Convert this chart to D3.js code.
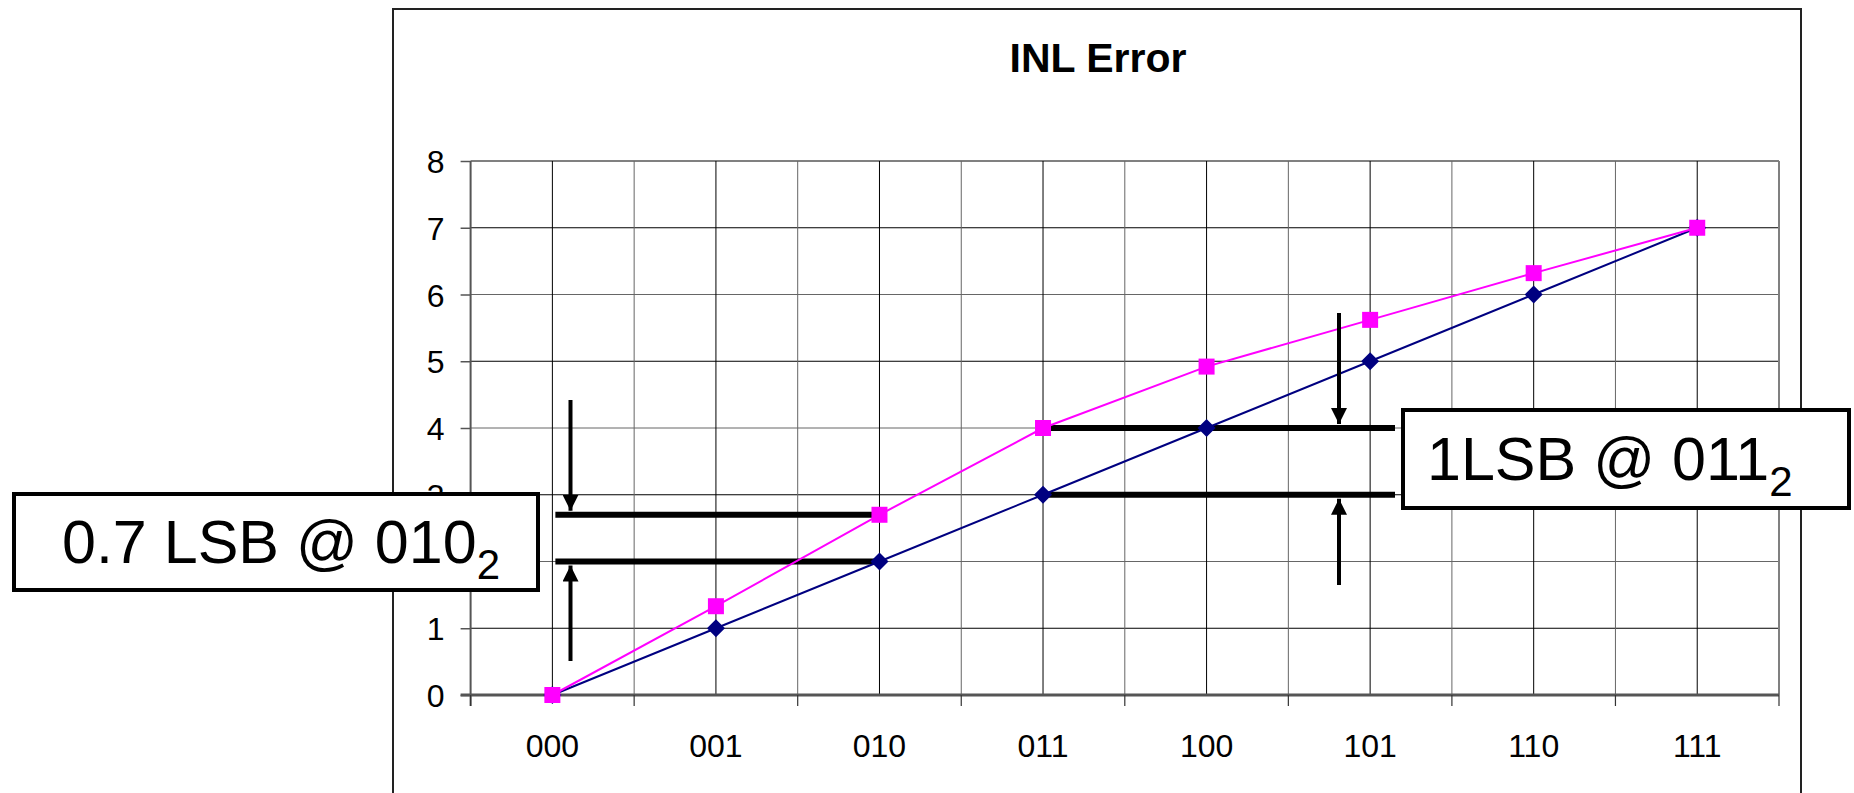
<!DOCTYPE html>
<html>
<head>
<meta charset="utf-8">
<script src="https://cdn.jsdelivr.net/npm/d3@7"></script>
<style>
  html, body { margin: 0; padding: 0; background: #fff; }
  svg { display: block; font-family: "Liberation Sans", Arial, sans-serif; }
</style>
</head>
<body>
<svg id="chart" width="1854" height="793"></svg>
<script>
// ---- data ----
const categories = ["000", "001", "010", "011", "100", "101", "110", "111"];
const idealValues = [0, 1, 2, 3, 4, 5, 6, 7];
const actualValues = [0, 1.33, 2.7, 4, 4.92, 5.62, 6.32, 7];
const yTicks = [0, 1, 2, 3, 4, 5, 6, 7, 8];
const titleText = "INL Error";
const leftNote = { main: "0.7 LSB @ 010", sub: "2", code: "010", hi: 2.7, lo: 2 };
const rightNote = { main: "1LSB @ 011", sub: "2", code: "011", hi: 4, lo: 3 };

// ---- layout ----
const svg = d3.select("#chart");
const plot = { left: 470.6, right: 1779, top: 161, bottom: 695 };

const x = d3.scaleBand().domain(categories).range([plot.left, plot.right]).padding(0);
const xc = c => x(c) + x.bandwidth() / 2;
const y = d3.scaleLinear().domain([0, 8]).range([plot.bottom, plot.top]);

// outer chart border
svg.append("rect")
  .attr("x", 393).attr("y", 9).attr("width", 1408).attr("height", 820)
  .attr("fill", "#fff").attr("stroke", "#222").attr("stroke-width", 2);

// title
svg.append("text")
  .attr("x", 1098).attr("y", 72)
  .attr("text-anchor", "middle")
  .attr("font-size", 41).attr("font-weight", "bold")
  .text(titleText);

// horizontal gridlines
svg.append("g").selectAll("line").data(yTicks.filter(d => d > 0))
  .join("line")
  .attr("x1", plot.left).attr("x2", plot.right)
  .attr("y1", d => y(d)).attr("y2", d => y(d))
  .attr("stroke", (d, i) => d === 8 ? "#808080" : (d % 2 ? "#000" : "#666"))
  .attr("stroke-width", d => d === 8 ? 2 : 1);

// vertical gridlines: band boundaries and centres
const vLines = [];
categories.forEach(c => { vLines.push(x(c)); vLines.push(xc(c)); });
vLines.push(plot.right);
svg.append("g").selectAll("line").data(vLines.slice(1, -1))
  .join("line")
  .attr("x1", d => d).attr("x2", d => d)
  .attr("y1", plot.top).attr("y2", plot.bottom)
  .attr("stroke", (d, i) => i % 2 ? "#666" : "#000")
  .attr("stroke-width", 1);

// plot border (left/right)
svg.append("line").attr("x1", plot.left).attr("x2", plot.left)
  .attr("y1", plot.top).attr("y2", plot.bottom + 11)
  .attr("stroke", "#555").attr("stroke-width", 2);
svg.append("line").attr("x1", plot.right).attr("x2", plot.right)
  .attr("y1", plot.top).attr("y2", plot.bottom)
  .attr("stroke", "#808080").attr("stroke-width", 2);

// y axis
const yAxis = d3.axisLeft(y).tickValues(yTicks).tickSize(10).tickPadding(16).tickFormat(d3.format("d"));
const gy = svg.append("g").attr("transform", `translate(${plot.left},0)`).call(yAxis);
gy.select(".domain").remove();
gy.selectAll(".tick line").attr("stroke", "#555").attr("stroke-width", 1.5);
gy.selectAll(".tick text").attr("font-size", 32).attr("fill", "#000")
  .attr("font-family", "Liberation Sans, Arial, sans-serif").attr("dy", "0.36em");

// x axis
const gx = svg.append("g").attr("transform", `translate(0,${plot.bottom})`);
gx.append("line").attr("x1", plot.left - 10).attr("x2", plot.right)
  .attr("y1", 0).attr("y2", 0).attr("stroke", "#555").attr("stroke-width", 3);
gx.selectAll("line.tk").data(categories.map(c => x(c)).concat([plot.right]))
  .join("line").attr("class", "tk")
  .attr("x1", d => d).attr("x2", d => d).attr("y1", 0).attr("y2", 11)
  .attr("stroke", "#333").attr("stroke-width", 1.2);
gx.selectAll("text").data(categories)
  .join("text")
  .attr("x", d => xc(d)).attr("y", 62)
  .attr("text-anchor", "middle").attr("font-size", 32)
  .text(d => d);

// annotation horizontal lines (under series)
const ann = svg.append("g");
function hLine(x1, x2, v) {
  ann.append("line").attr("x1", x1).attr("x2", x2)
    .attr("y1", y(v)).attr("y2", y(v))
    .attr("stroke", "#000").attr("stroke-width", 6);
}
hLine(xc(categories[0]) + 3, xc(leftNote.code), leftNote.hi);
hLine(xc(categories[0]) + 3, xc(leftNote.code), leftNote.lo);
hLine(xc(rightNote.code), 1395, rightNote.hi);
hLine(xc(rightNote.code), 1395, rightNote.lo);

// series
const line = d3.line().x((d, i) => xc(categories[i])).y(d => y(d));
svg.append("path").datum(idealValues).attr("d", line)
  .attr("fill", "none").attr("stroke", "#000080").attr("stroke-width", 2);
svg.append("g").selectAll("path").data(idealValues).join("path")
  .attr("d", "M0,-9L9,0L0,9L-9,0Z")
  .attr("transform", (d, i) => `translate(${xc(categories[i])},${y(d)})`)
  .attr("fill", "#000080");

svg.append("path").datum(actualValues).attr("d", line)
  .attr("fill", "none").attr("stroke", "#FF00FF").attr("stroke-width", 2);
svg.append("g").selectAll("rect").data(actualValues).join("rect")
  .attr("x", (d, i) => xc(categories[i]) - 8).attr("y", d => y(d) - 8)
  .attr("width", 16).attr("height", 16)
  .attr("fill", "#FF00FF");

// arrows
const defs = svg.append("defs");
defs.append("marker").attr("id", "ah")
  .attr("viewBox", "0 0 10 10").attr("refX", 10).attr("refY", 5)
  .attr("markerUnits", "userSpaceOnUse")
  .attr("markerWidth", 16).attr("markerHeight", 16)
  .attr("orient", "auto")
  .append("path").attr("d", "M0,0L10,5L0,10Z").attr("fill", "#000");
function arrow(xp, y1, y2) {
  svg.append("line").attr("x1", xp).attr("x2", xp).attr("y1", y1).attr("y2", y2)
    .attr("stroke", "#000").attr("stroke-width", 4).attr("marker-end", "url(#ah)");
}
arrow(570.5, 400, y(leftNote.hi) - 4);
arrow(570.5, 661, y(leftNote.lo) + 4);
arrow(1339, 313, y(rightNote.hi) - 4);
arrow(1339, 585, y(rightNote.lo) + 4);

// annotation boxes
function noteBox(bx, by, bw, bh, tx, ty, note) {
  svg.append("rect").attr("x", bx).attr("y", by).attr("width", bw).attr("height", bh)
    .attr("fill", "#fff").attr("stroke", "#000").attr("stroke-width", 4);
  const t = svg.append("text").attr("x", tx).attr("y", ty).attr("font-size", 61);
  t.append("tspan").text(note.main);
  t.append("tspan").attr("font-size", 42).attr("dy", 16).text(note.sub);
}
noteBox(14, 494, 524, 96, 62, 563, leftNote);
noteBox(1403, 410, 446, 98, 1427, 480, rightNote);
</script>
</body>
</html>
